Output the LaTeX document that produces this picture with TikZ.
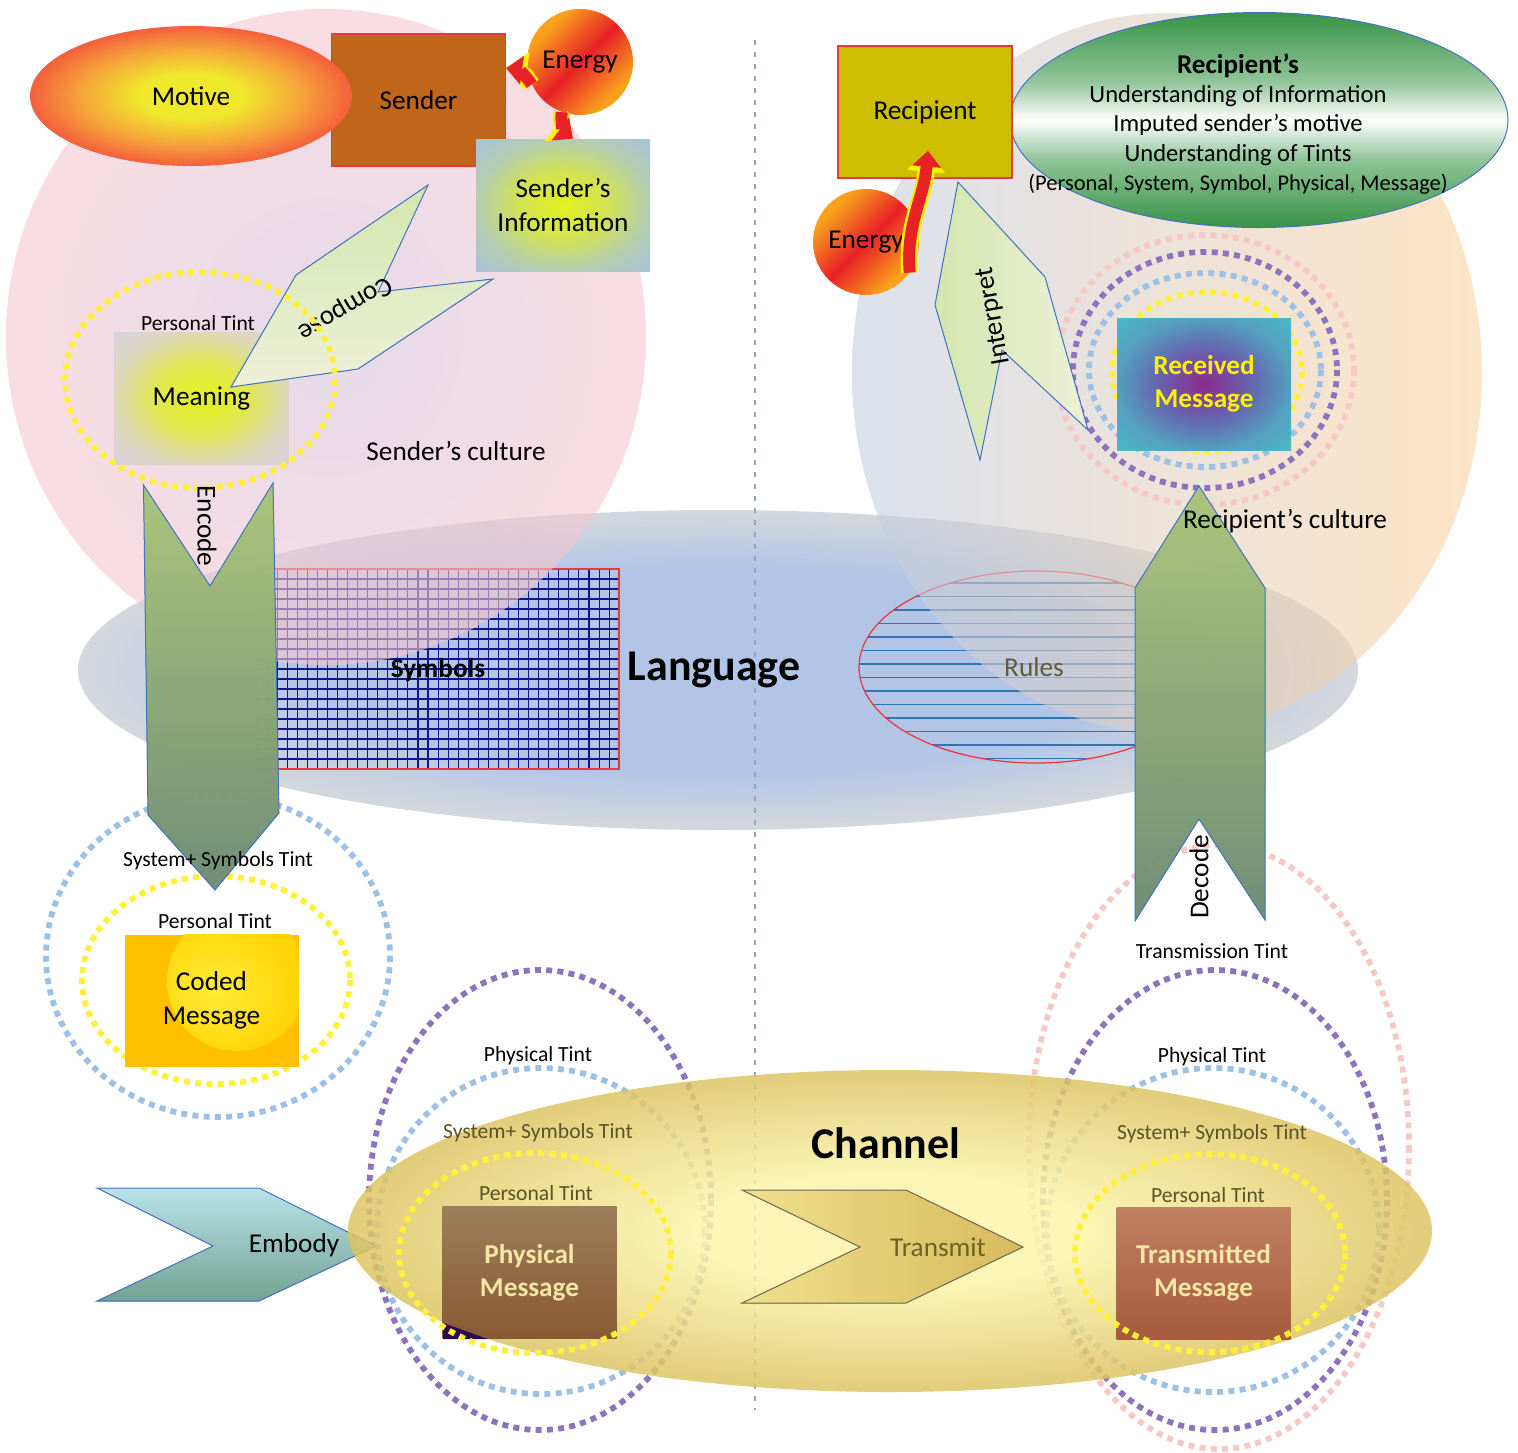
\documentclass[tikz,border=0pt]{standalone}
\usepackage{fontspec}
\setmainfont{Carlito}
\usetikzlibrary{shapes.geometric,arrows.meta}

\definecolor{sendpink}{HTML}{F5C6CE}
\definecolor{sendlav}{HTML}{D3C2DC}
\definecolor{recpeach}{HTML}{FCD3A0}
\definecolor{recgrey}{HTML}{C4CDE0}
\definecolor{langblue}{HTML}{B2C5E6}
\definecolor{langgrey}{HTML}{D5D8DD}
\definecolor{chanyel}{HTML}{FBF3A8}
\definecolor{chankhaki}{HTML}{DCC463}
\definecolor{senderbrown}{HTML}{C0661A}
\definecolor{recolive}{HTML}{CDBF00}
\definecolor{edgered}{HTML}{E8383D}
\definecolor{edgeblue}{HTML}{4472C4}
\definecolor{energyora}{HTML}{F9A11B}
\definecolor{energyred}{HTML}{E82127}
\definecolor{flameyel}{HTML}{FFF200}
\definecolor{motyel}{HTML}{F0E82C}
\definecolor{motora}{HTML}{F5A53A}
\definecolor{motred}{HTML}{F45F3C}
\definecolor{infoyel}{HTML}{E4F01E}
\definecolor{infoblue}{HTML}{A7C3D8}
\definecolor{meanlav}{HTML}{D9D2E2}
\definecolor{recvpurple}{HTML}{8C2A8C}
\definecolor{recvmid}{HTML}{6468B0}
\definecolor{recvteal}{HTML}{4DB8C6}
\definecolor{codeora}{HTML}{FFC000}
\definecolor{codeyel}{HTML}{FFEC38}
\definecolor{physbrowntop}{HTML}{9D7E5A}
\definecolor{physbrownbot}{HTML}{885A34}
\definecolor{transtop}{HTML}{C08062}
\definecolor{transbot}{HTML}{A65B3D}
\definecolor{paleyel}{HTML}{F6E7A4}
\definecolor{arrowlight}{HTML}{C0DE8A}
\definecolor{arrowdark}{HTML}{7C9D84}
\definecolor{composetop}{HTML}{D2E6AE}
\definecolor{composebot}{HTML}{EEF0D8}
\definecolor{ringyel}{HTML}{FFF03A}
\definecolor{ringblue}{HTML}{9DC0E6}
\definecolor{ringpurple}{HTML}{8B74BD}
\definecolor{ringpink}{HTML}{F8C8C8}
\definecolor{gridnavy}{HTML}{14148A}
\definecolor{rulesblue}{HTML}{2E75B6}
\definecolor{olivetext}{HTML}{5A5228}
\definecolor{greenell}{HTML}{379446}
\definecolor{divider}{HTML}{8EA6C6}
\definecolor{darkcorner}{HTML}{2B0B4F}

\pgfdeclareradialshading{langshade}{\pgfpointorigin}{color(0bp)=(langblue); color(16bp)=(langblue); color(25bp)=(langgrey); color(50bp)=(langgrey)}
\pgfdeclareradialshading{chanshade}{\pgfpointorigin}{color(0bp)=(chanyel); color(9bp)=(chanyel); color(25bp)=(chankhaki); color(50bp)=(chankhaki)}
\pgfdeclareradialshading{motiveshade}{\pgfpointorigin}{color(0bp)=(motyel); color(8bp)=(motyel); color(17bp)=(motora); color(25bp)=(motred); color(50bp)=(motred)}
\pgfdeclareradialshading{infoshade}{\pgfpointorigin}{color(0bp)=(infoyel); color(13bp)=(infoyel!70!infoblue); color(25bp)=(infoblue!80!infoyel); color(35bp)=(infoblue); color(50bp)=(infoblue)}
\pgfdeclareradialshading{meanshade}{\pgfpointorigin}{color(0bp)=(infoyel); color(13bp)=(infoyel!75!meanlav); color(25bp)=(meanlav!80!infoyel); color(35bp)=(meanlav); color(50bp)=(meanlav)}
\pgfdeclareradialshading{recvshade}{\pgfpointorigin}{color(0bp)=(recvpurple); color(14bp)=(recvmid); color(25bp)=(recvteal!70!recvmid); color(35bp)=(recvteal); color(50bp)=(recvteal)}
\pgfdeclarehorizontalshading{energyshade}{100bp}{color(0bp)=(energyora); color(28bp)=(energyora); color(50bp)=(energyred); color(72bp)=(energyora); color(100bp)=(energyora)}
\pgfdeclareverticalshading{greenshade}{100bp}{color(0bp)=(greenell); color(25bp)=(greenell); color(41bp)=(greenell!55!white); color(50bp)=(white); color(59bp)=(greenell!55!white); color(75bp)=(greenell); color(100bp)=(greenell)}

\tikzset{
  lbl/.style={font=\fontsize{15.5}{19}\selectfont, align=center, inner sep=0pt},
  tint/.style={font=\fontsize{12.3}{14}\selectfont, inner sep=0pt},
  msgbox/.style={rectangle, inner sep=0pt, minimum width=34.8mm, minimum height=26.4mm, lbl},
  ring/.style={line width=1.15mm, dash pattern=on 1.2mm off 1.05mm},
  shapeline/.style={draw=edgeblue, line width=0.2mm},
  gridline/.style={gridnavy, line width=0.22mm},
  energy/.style={circle, inner sep=0pt, minimum size=21.2mm, shading=energyshade, shading angle=-45, lbl},
  flame/.style={line width=2.4mm, draw=energyred, -{Triangle[length=3.2mm,width=5.6mm]},
    preaction={draw=flameyel, line width=3.4mm, -{Triangle[length=4.2mm,width=7.4mm]}}},
}

\begin{document}
\begin{tikzpicture}[x=0.2mm, y=-0.2mm]
  \useasboundingbox (0,0) rectangle (1518,1452);

  % language, symbols, rules, cultures
  \shade[shading=langshade] (718,670) ellipse (640 and 160);
  \foreach \i in {0,...,36}
    \draw[gridline] ({257+\i*10.06},569) -- ({257+\i*10.06},769);
  \foreach \j in {0,...,20}
    \draw[gridline] (257,{569+\j*10}) -- (619,{569+\j*10});
  \draw[edgered, line width=0.25mm] (257,569) rectangle (619,769);
  \begin{scope}
    \clip (1036,667) ellipse (177 and 96);
    \foreach \y in {583,596.5,...,760}
      \draw[rulesblue, line width=0.3mm] (850,\y) -- (1225,\y);
  \end{scope}
  \draw[edgered, line width=0.25mm] (1036,667) ellipse (177 and 96);
  \shade[inner color=sendlav, outer color=sendpink, opacity=0.6] (326,337) ellipse (320 and 328);
  \shade[left color=recgrey, right color=recpeach, opacity=0.6] (1167,373) ellipse (315 and 360);

  \coordinate (divtop) at (755,40);
  \coordinate (divbot) at (755,1410);
  \draw[divider, line width=0.3mm, dash pattern=on 1mm off 1.4mm] (divtop) -- (divbot);

  \node[font=\fontsize{15.5}{19}\selectfont\bfseries] (symlabel) at (438,670) {Symbols};
  \node[font=\fontsize{25}{30}\selectfont\bfseries] (langlabel) at (714,670) {Language};
  \node[lbl, text=olivetext!80!gray] (ruleslabel) at (1034,667) {Rules};
  \node[lbl] (sculture) at (456,451) {Sender’s culture};

  % sender side
  \node[msgbox, fill=senderbrown, draw=edgered, line width=0.25mm] (sender) at (418.5,100) {Sender};
  \node[ellipse, shading=motiveshade, minimum width=64.4mm, minimum height=28mm, lbl] (motive) at (191,96) {Motive};
  \node[msgbox, shading=infoshade] (senderinfo) at (563,205) {Sender’s\\Information};
  \node[energy] (energyS) at (580,62) {Energy};
  \draw[flame] (energyS.205) to[bend right=25] (sender.20);
  \draw[flame] (energyS.250) to[bend right=30] ([xshift=2mm]senderinfo.north);

  \node[msgbox, shading=meanshade] (meaning) at (201.5,398) {Meaning};
  \filldraw[shapeline, top color=composetop, bottom color=composebot]
    (428,185) -- (378,292) -- (493,279) -- (358,369) -- (231,387) -- (296,275) -- cycle;
  \node[lbl, rotate=210] (compose) at (345,308) {Compose};
  \draw[ring, ringyel] (200,380) ellipse (135 and 108);
  \node[tint] (mtint) at (198,323) {Personal Tint};

  % coded message
  \draw[ring, ringblue] (218,956) ellipse (172 and 161);
  \draw[ring, ringyel] (216,980) ellipse (134 and 104);
  \filldraw[shapeline, top color=arrowlight, bottom color=arrowdark, fill opacity=0.88]
    (143.5,485) -- (210,586) -- (273,483) -- (279,813) -- (215,890) -- (148,815) -- cycle;
  \node[lbl, rotate=-90] (encode) at (207,526) {Encode};
  \node[msgbox, fill=codeora, path picture={
      \shade[inner color=codeyel, outer color=codeora!70!yellow]
        ([xshift=5.1mm,yshift=3.9mm]path picture bounding box.center) circle (14mm);}]
    (coded) at (211.5,1000.5) {Coded\\Message};
  \node[tint] (ctint1) at (218,861) {System+ Symbols Tint};
  \node[tint] (ctint2) at (215,921) {Personal Tint};

  % recipient side
  \node[ellipse, draw=edgeblue, line width=0.2mm, shading=greenshade, minimum width=99.6mm,
    minimum height=43mm, inner sep=0pt] (rellipse) at (1259,120) {};
  \node[align=center, font=\fontsize{14}{16.6}\selectfont] (rinfo) at (1238,124)
    {{\fontsize{15.4}{16.6}\selectfont\bfseries Recipient’s}\\
     Understanding of Information\\
     Imputed sender’s motive\\
     Understanding of Tints\\
     {\fontsize{12.8}{16.6}\selectfont (Personal, System, Symbol, Physical, Message)}};
  \node[msgbox, fill=recolive, draw=edgered, line width=0.25mm] (recipient) at (925,112) {Recipient};

  \draw[ring, ringpink] (1205,370) ellipse (149 and 135);
  \draw[ring, ringpurple] (1205,370) ellipse (132 and 118);
  \draw[ring, ringblue] (1205,370) ellipse (116 and 97);
  \draw[ring, ringyel] (1207,372) ellipse (95 and 80);
  \node[msgbox, shading=recvshade, text=yellow,
    font=\fontsize{15.5}{19}\selectfont\bfseries] (received) at (1204,384) {Received\\Message};

  \filldraw[shapeline, left color=composetop, right color=composebot]
    (958,182) -- (1045,277) -- (1088,430) -- (1002,350) -- (980,460) -- (935,305) -- cycle;
  \node[lbl, rotate=100] (interpret) at (994,316) {Interpret};
  \node[energy] (energyR) at (866,242) {Energy};
  \draw[flame] (energyR.-35) to[out=95, in=-95] ([xshift=0.6mm,yshift=5.6mm]recipient.south);

  % transmitted message rings
  \draw[ring, ringpink] (1219,1147) ellipse (190 and 302);
  \draw[ring, ringpurple] (1215,1200) ellipse (172 and 230);
  \draw[ring, ringblue] (1213,1230) ellipse (166 and 162);
  % physical message rings
  \draw[ring, ringpurple] (540,1200) ellipse (171 and 230);
  \draw[ring, ringblue] (541,1231) ellipse (164 and 163);

  \filldraw[shapeline, top color=arrowlight, bottom color=arrowdark, fill opacity=0.88]
    (1199,486) -- (1265,588) -- (1265,920) -- (1199,819) -- (1135,921) -- (1135,588) -- cycle;
  \node[lbl, rotate=90] (decode) at (1199,877) {Decode};
  \node[lbl] (rculture) at (1285,521) {Recipient’s culture};
  \node[tint] (ttint4) at (1212,951) {Transmission Tint};

  % channel
  \filldraw[shapeline, top color=recvteal!40!white, bottom color=arrowdark!80!recvteal]
    (97,1188) -- (259,1188) -- (376,1246) -- (259,1301) -- (97,1301) -- (213,1246) -- cycle;
  \node[lbl] (embody) at (294,1245) {Embody};
  \shade[shading=chanshade, opacity=0.85] (890,1231) ellipse (542 and 161);
  \filldraw[draw=olivetext!50!gray, line width=0.2mm, left color=chanyel!60!chankhaki, right color=chankhaki!85!brown]
    (742,1190) -- (906,1190) -- (1023,1247) -- (906,1303) -- (742,1303) -- (860,1247) -- cycle;
  \node[lbl, text=olivetext!90!yellow] (transmit) at (938,1247) {Transmit};
  \node[font=\fontsize{25}{30}\selectfont\bfseries] (chanlabel) at (886,1143) {Channel};

  \node[msgbox, top color=physbrowntop, bottom color=physbrownbot, text=paleyel,
    font=\fontsize{15.5}{19}\selectfont\bfseries] (physical) at (529.5,1272.5) {Physical\\Message};
  \fill[darkcorner] (443,1323) -- (443,1339) -- (488,1339) -- cycle;
  \node[msgbox, top color=transtop, bottom color=transbot, text=paleyel,
    font=\fontsize{15.5}{19}\selectfont\bfseries] (transmitted) at (1203.5,1273) {Transmitted\\Message};
  \draw[ring, ringyel] (535,1253) ellipse (136 and 100);
  \draw[ring, ringyel] (1210,1253) ellipse (135 and 99);

  \node[tint] (ptint1) at (538,1056) {Physical Tint};
  \node[tint, text=olivetext] (ptint2) at (538,1133) {System+ Symbols Tint};
  \node[tint, text=olivetext] (ptint3) at (536,1193) {Personal Tint};
  \node[tint] (ttint1) at (1212,1057) {Physical Tint};
  \node[tint, text=olivetext] (ttint2) at (1212,1134) {System+ Symbols Tint};
  \node[tint, text=olivetext] (ttint3) at (1208,1195) {Personal Tint};
\end{tikzpicture}
\end{document}
